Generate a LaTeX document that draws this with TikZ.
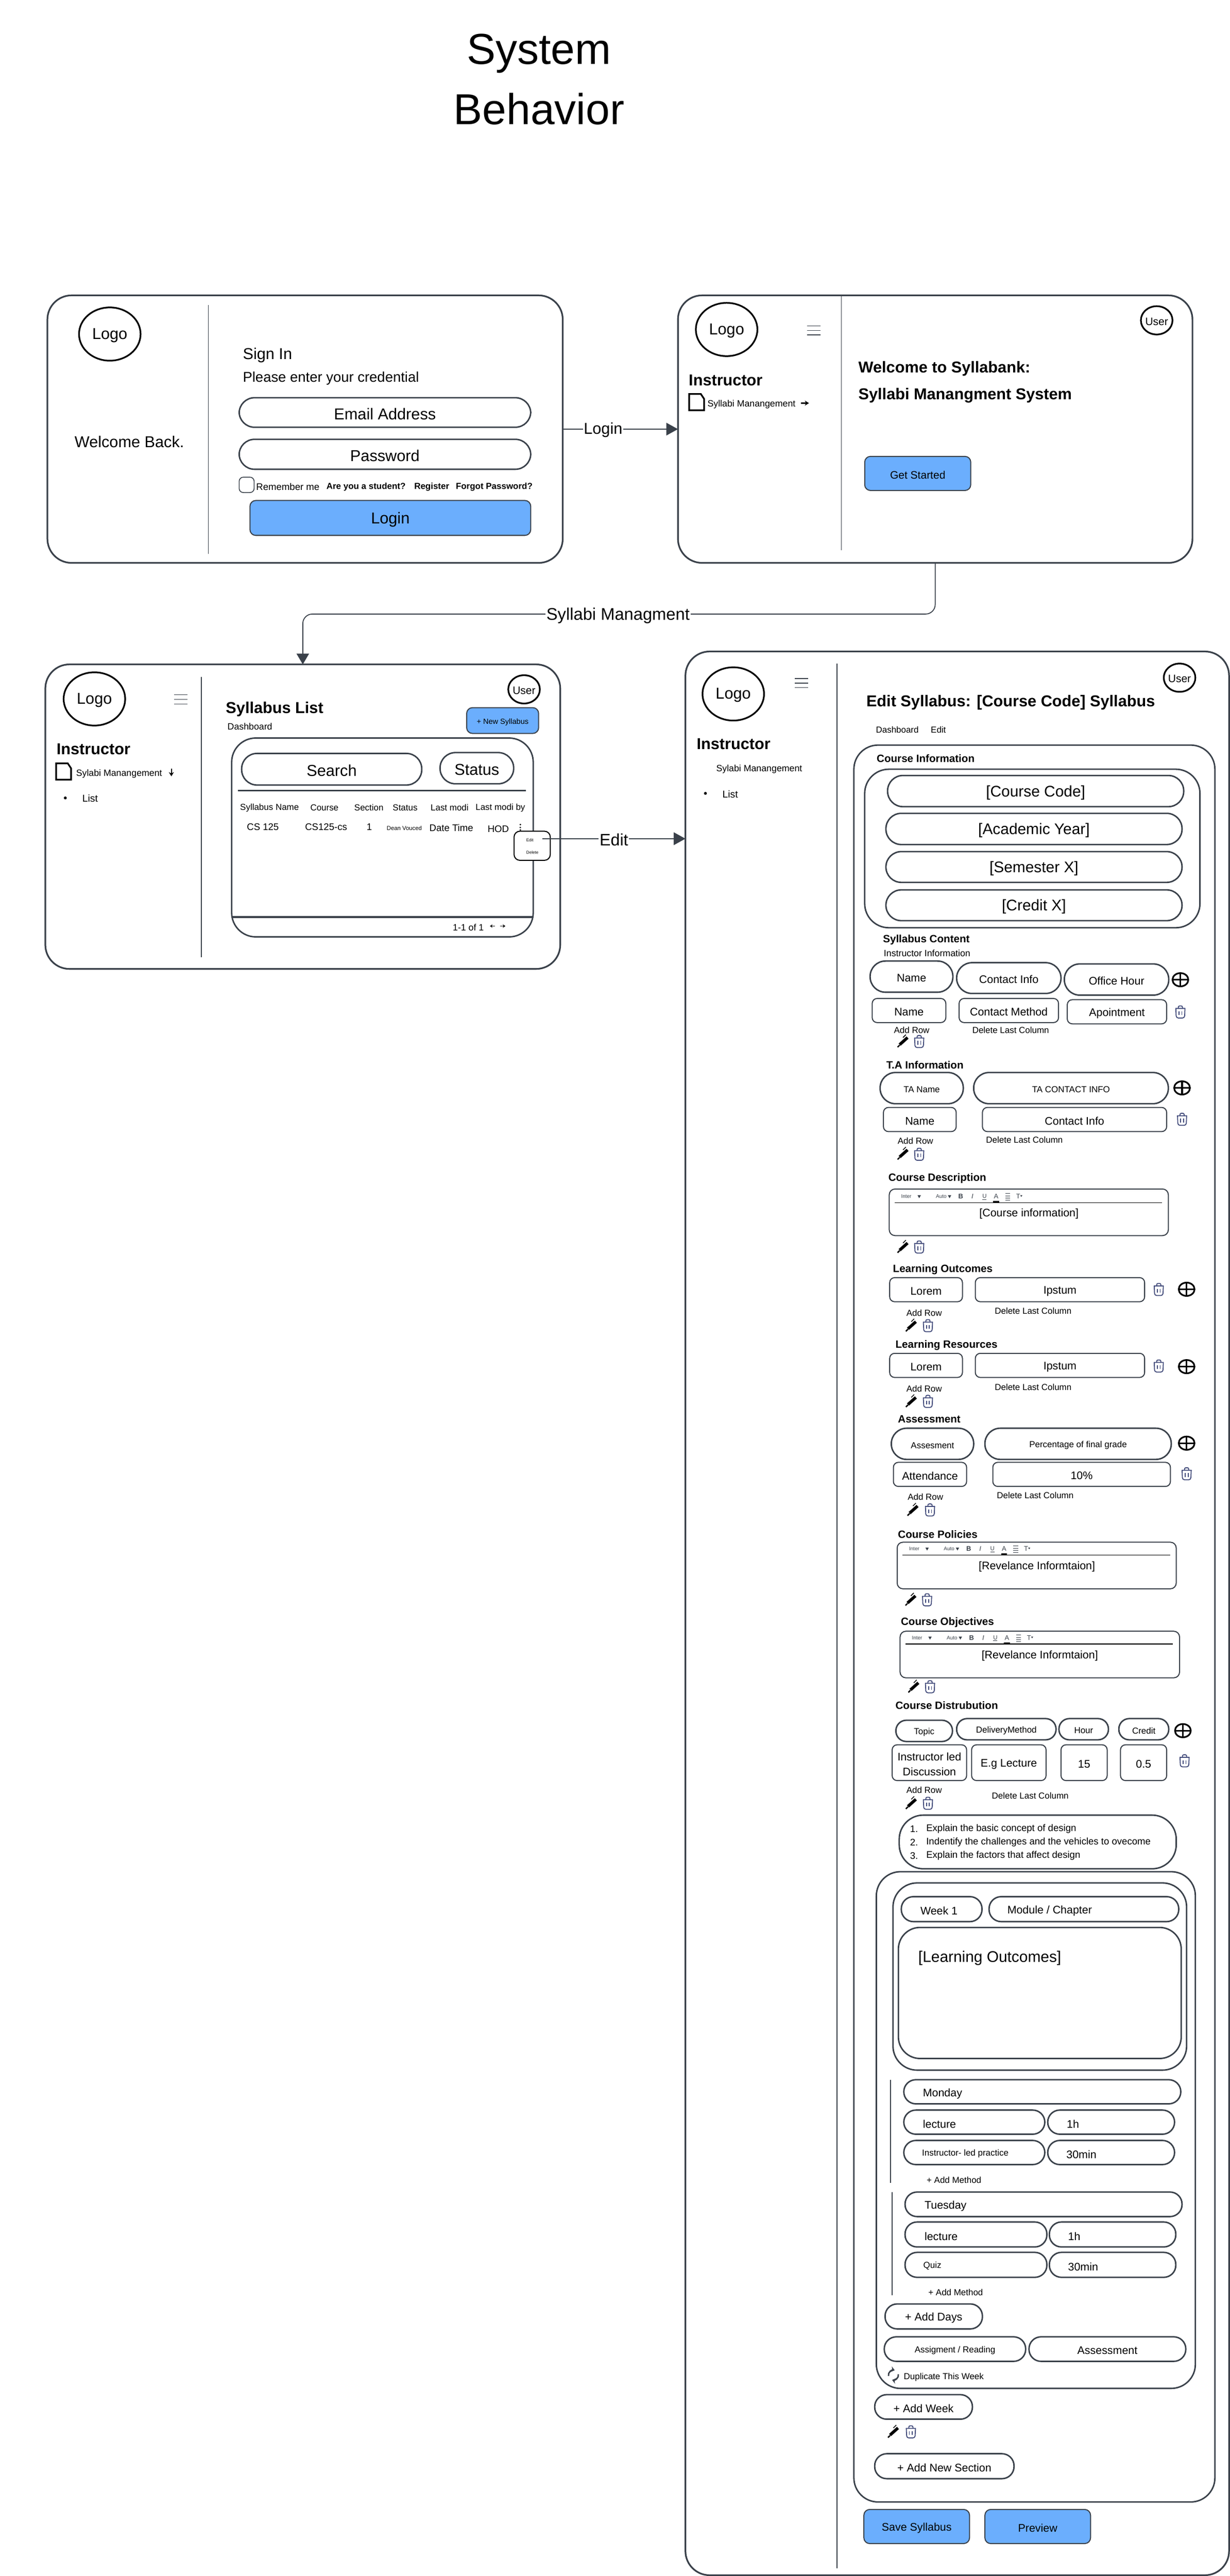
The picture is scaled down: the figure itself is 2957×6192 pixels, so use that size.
\documentclass[tikz,border=0pt]{standalone}
\usepackage{fontspec}
\setmainfont{Liberation Sans}
\usetikzlibrary{arrows.meta,shapes.geometric}
\definecolor{ln}{HTML}{3A414A}
\definecolor{btnblue}{HTML}{6BAEFD}
\definecolor{trashc}{HTML}{3F4878}
\newcounter{tn}
\tikzset{
  base/.style={inner sep=0pt,outer sep=0pt,align=center,text=black},
  frame/.style={base,draw=ln,line width=2pt,rounded corners=29pt},
  panel/.style={base,draw=ln,line width=1.75pt,rounded corners=29pt},
  pillL/.style={base,draw=ln,line width=1.75pt,rounded corners=18.5pt},
  pillM/.style={base,draw=ln,line width=1.75pt,rounded corners=14.5pt},
  pillS/.style={base,draw=ln,line width=1.75pt,rounded corners=12.5pt},
  thinbox/.style={base,draw=ln,line width=1.25pt,rounded corners=6pt},
  btn/.style={base,draw=ln,line width=1.25pt,rounded corners=7pt,fill=btnblue},
  popup/.style={base,draw=black,line width=1.25pt,rounded corners=7pt,fill=white},
  logo/.style={base,draw=black,line width=2pt,ellipse},
  divider/.style={draw=ln,line width=1.1pt},
  conn/.style={draw=ln,line width=1.6pt,-{Triangle[length=14pt,width=15pt,fill=ln]}},
  connthin/.style={draw=ln,line width=1.1pt,rounded corners=11.5pt,-{Triangle[length=13pt,width=15pt,fill=ln]}},
  edgelabel/.style={fill=white,inner xsep=1pt,inner ysep=1pt},
  small/.style={line width=1.4pt,-{Stealth[length=5pt,width=6pt]}},
  t100/.style={font=\fontsize{52pt}{71pt}\selectfont},
  t42/.style={font=\fontsize{20.25pt}{25pt}\selectfont},
  t38/.style={font=\fontsize{19pt}{23pt}\selectfont},
  t37/.style={font=\fontsize{18.5pt}{22pt}\selectfont},
  t34/.style={font=\fontsize{17pt}{20pt}\selectfont},
  t26/.style={font=\fontsize{13.25pt}{18pt}\selectfont},
  t24/.style={font=\fontsize{12pt}{15pt}\selectfont},
  t23/.style={font=\fontsize{11.5pt}{14pt}\selectfont},
  t22/.style={font=\fontsize{11pt}{14pt}\selectfont},
  t21/.style={font=\fontsize{10.5pt}{13pt}\selectfont},
  t18/.style={font=\fontsize{9pt}{11pt}\selectfont},
  t14/.style={font=\fontsize{7pt}{9pt}\selectfont},
  t10/.style={font=\fontsize{5pt}{6pt}\selectfont},
  b38/.style={font=\fontsize{19pt}{23pt}\selectfont\bfseries},
  b25/.style={font=\fontsize{12.75pt}{15pt}\selectfont\bfseries},
  b21/.style={font=\fontsize{10.5pt}{13pt}\selectfont\bfseries},
}
% style, name, x1, y1, x2, y2, text: frame node plus its text, set a little lower as in the reference
\newcommand{\mybox}[7]{%
  \pgfmathsetlengthmacro\bw{(#5-#3)*0.5pt}%
  \pgfmathsetlengthmacro\bh{(#6-#4)*0.5pt}%
  \node[#1,minimum width=\bw,minimum height=\bh] (#2) at ({(#3+#5)/2},{(#4+#6)/2}) {};
  \def\tmptxt{#7}\ifx\tmptxt\empty\else
  \node[base,#1,draw=none,fill=none,yshift=-1.75pt] (#2-text) at (#2) {#7};\fi}
% style, x, y, text
\newcommand{\mytext}[4]{\stepcounter{tn}\node[base,#1,yshift=-1.75pt] (t\arabic{tn}) at (#2,#3) {#4};}
\newcommand{\myL}[4]{\mytext{anchor=west,#1}{#2}{#3}{#4}}
\newcommand{\myellipse}[6]{%
  \pgfmathsetlengthmacro\bw{(#5)*1pt}%
  \pgfmathsetlengthmacro\bh{(#6)*1pt}%
  \node[logo,minimum width=\bw,minimum height=\bh] (#1) at (#3,#4) {};
  \node[base,yshift=-1.5pt] (#1-text) at (#1) {#2};}
\newcommand{\mylogo}[3]{\myellipse{#1}{\fontsize{19pt}{23pt}\selectfont Logo}{#2}{#3}{74}{64}}
\newcommand{\myuser}[3]{\myellipse{#1}{\fontsize{13pt}{16pt}\selectfont User}{#2}{#3}{38}{34}}
\newcommand{\myham}[3]{\draw[ln,line width=.8pt] (#1,#2) -- ++(32,0) (#1,{#2+11}) -- ++(32,0) (#1,{#2+22}) -- ++(32,0);}
\newcommand{\mydoc}[2]{\begin{scope}[shift={(#1,#2)}]\draw[black,line width=2pt,line join=miter] (0,0) -- (28,0) -- (36,12) -- (36,39) -- (0,39) -- cycle;\end{scope}}
\newcommand{\mytrash}[2]{\begin{scope}[shift={(#1,#2)}]
  \draw[trashc,line width=1.1pt,rounded corners=2.5pt] (-11,-8) -- (-10,15) -- (10,15) -- (11,-8);
  \draw[trashc,line width=1.1pt,rounded corners=1.5pt] (-12,-8) -- (12,-8) (-5,-8) -- (-5,-14) -- (5,-14) -- (5,-8);
  \draw[trashc,line width=1.1pt] (-3.5,-1) -- (-3.5,8) (3.5,-1) -- (3.5,8);
\end{scope}}
\newcommand{\mypen}[2]{\begin{scope}[shift={(#1,#2)}]
  \draw[black,line width=3.6pt] (-9,9) -- (10,-8);
  \draw[black,line width=1.6pt] (-14,15) -- (-9,10);
  \draw[black,line width=.9pt] (-1,-8) -- (6,-15);
\end{scope}}
\newcommand{\myplus}[2]{\begin{scope}[shift={(#1,#2)}]
  \draw[black,line width=2pt] (0,0) ellipse[x radius=19,y radius=16];
  \draw[black,line width=2pt] (-19,0) -- (19,0) (0,-16) -- (0,16);
\end{scope}}
% x of box left, y of box top, line y offset, right offset
\newcommand{\mytool}[4]{\begin{scope}[shift={(#1,#2)}]
  \node[base,text=ln,font=\fontsize{6.2pt}{8pt}\selectfont] at (41,#3-15) {Inter};
  \fill[ln] (68,#3-18) -- (76,#3-18) -- (72,#3-11) -- cycle;
  \node[base,text=ln,font=\fontsize{6.2pt}{8pt}\selectfont] at (125,#3-15) {Auto};
  \fill[ln] (141,#3-18) -- (149,#3-18) -- (145,#3-11) -- cycle;
  \node[base,text=ln,font=\fontsize{8pt}{10pt}\selectfont\bfseries] at (172,#3-15) {B};
  \node[base,text=ln,font=\fontsize{8pt}{10pt}\selectfont\itshape] at (200,#3-15) {I};
  \node[base,text=ln,font=\fontsize{7pt}{9pt}\selectfont] at (229,#3-16) {U};
  \draw[ln,line width=.5pt] (224,#3-8) -- (234,#3-8);
  \node[base,text=ln,font=\fontsize{8pt}{10pt}\selectfont] at (257,#3-15) {A};
  \fill[black] (250,#3-4) rectangle (264,#3-1);
  \draw[ln,line width=.6pt] (279,#3-22) -- (291,#3-22) (279,#3-16) -- (291,#3-16) (279,#3-11) -- (291,#3-11) (279,#3-6) -- (291,#3-6);
  \node[base,text=ln,font=\fontsize{8pt}{10pt}\selectfont] at (310,#3-15) {T};
  \fill[ln] (315,#3-18) -- (320,#3-18) -- (317.5,#3-14) -- cycle;
  \draw[black,line width=1pt] (13,#3) -- (#4,#3);
\end{scope}}
\begin{document}
\begin{tikzpicture}[x=0.5pt,y=-0.5pt]
\useasboundingbox (0,0) rectangle (2957,6192);
\fill[white] (0,0) rectangle (2957,6192);

% Title
\mytext{t100}{1296}{125}{System}
\mytext{t100}{1296}{258}{Behavior}

% ---- Screen 1
\mybox{frame}{s1}{114}{710}{1353}{1353}{}
\draw[divider] (501,733) -- (501,1331);
\mylogo{logoa}{264}{803}
\mytext{t38}{311}{1059}{Welcome Back.}
\myL{t38}{584}{851}{Sign In}
\myL{t34}{584}{906}{Please enter your credential}
\mybox{pillL,t38}{email}{575}{956}{1276}{1027}{Email Address}
\mybox{pillL,t38}{password}{575}{1056}{1276}{1128}{Password}
\mybox{thinbox,rounded corners=5pt,line width=1pt}{remember}{575}{1147}{611}{1184}{}
\myL{t23}{616}{1167}{Remember me}
\myL{b21}{785}{1167}{Are you a student?}
\myL{b21}{996}{1167}{Register}
\myL{b21}{1096}{1167}{Forgot Password?}
\mybox{btn,t38}{loginbtn}{601}{1203}{1276}{1287}{Login}

% ---- Screen 2
\mybox{frame}{s2}{1630}{710}{2867}{1353}{}
\draw[divider] (2023,710) -- (2023,1323);
\mylogo{logob}{1747}{792}
\myham{1941}{783}{}
\myL{b38}{1656}{910}{Instructor}
\mydoc{1657}{947}
\myL{t22}{1701}{969}{Syllabi Manangement}
\draw[small] (1926,969) -- (1945,969);
\myuser{userb}{2781}{770}
\myL{b38}{2064}{883}{Welcome to Syllabank:}
\myL{b38}{2064}{947}{Syllabi Manangment System}
\mybox{btn,font=\fontsize{13pt}{16pt}\selectfont}{getstarted}{2079}{1097}{2334}{1179}{Get Started}

% ---- Screen 3
\mybox{frame}{s3}{109}{1597}{1347}{2329}{}
\draw[divider] (484,1627) -- (484,2301);
\mylogo{logoc}{227}{1680}
\myham{419}{1670}{}
\myL{b38}{136}{1797}{Instructor}
\mydoc{135}{1835}
\myL{t22}{183}{1856}{Sylabi Manangement}
\draw[small] (412,1848) -- (412,1866);
\fill[black] (157,1918) circle[radius=3.5];
\myL{t24}{198}{1916}{List}
\myuser{userc}{1260}{1657}
\myL{b38}{543}{1701}{Syllabus List}
\myL{t22}{547}{1743}{Dashboard}
\mybox{btn,t18}{newsyl}{1122}{1701}{1295}{1763}{+ New Syllabus}
\mybox{panel}{tablep}{557}{1774}{1282}{2252}{}
\mybox{pillL,t38}{search}{581}{1811}{1014}{1887}{Search}
\mybox{pillL,t38}{statusb}{1058}{1809}{1235}{1884}{Status}
\draw[ln,line width=1.6pt] (572,1900) -- (1264,1900);
\mytext{t21}{648}{1938}{Syllabus Name}
\mytext{t21}{780}{1938}{Course}
\mytext{t21}{887}{1938}{Section}
\mytext{t21}{974}{1938}{Status}
\mytext{t21}{1081}{1938}{Last modi}
\mytext{t21}{1203}{1938}{Last modi by}
\mytext{t23}{632}{1984}{CS 125}
\mytext{t23}{784}{1984}{CS125-cs}
\mytext{t23}{888}{1984}{1}
\mytext{t14}{972}{1987}{Dean Vouced}
\mytext{t23}{1085}{1987}{Date Time}
\mytext{t23}{1198}{1989}{HOD}
\fill[black] (1251,1982) circle[radius=2] (1251,1989) circle[radius=2] (1251,1995) circle[radius=2];
\draw[ln,line width=2.2pt] (557,2204) -- (1282,2204);
\mytext{t22}{1126}{2226}{1-1 of 1}
\draw[small,line width=.9pt,-{Stealth[length=3pt,width=4pt]}] (1190,2226) -- (1178,2226);
\draw[small,line width=.9pt,-{Stealth[length=3pt,width=4pt]}] (1203,2226) -- (1215,2226);
\mybox{popup}{popupm}{1236}{1998}{1323}{2068}{}
\mytext{t10}{1274}{2016}{Edit}
\mytext{t10}{1280}{2045}{Delete}

% ---- Screen 4
\mybox{frame}{s4}{1648}{1566}{2955}{6190}{}
\draw[divider] (2012,1595) -- (2012,6173);
\mylogo{logod}{1763}{1668}
\myham{1911}{1631}{}
\myL{b38}{1675}{1785}{Instructor}
\myL{t22}{1722}{1845}{Sylabi Manangement}
\fill[black] (1696,1907) circle[radius=3.5];
\myL{t24}{1737}{1905}{List}
\myuser{userd}{2836}{1629}
\myL{b38}{2083}{1685}{Edit Syllabus: [Course Code] Syllabus}
\myL{t21}{2106}{1751}{Dashboard}
\myL{t21}{2238}{1751}{Edit}
\mybox{panel}{content}{2053}{1791}{2921}{6014}{}
\myL{b25}{2108}{1820}{Course Information}
\mybox{panel}{courseinfo}{2079}{1849}{2885}{2230}{}
\mybox{pillL,t37}{ccode}{2134}{1864}{2846}{1939}{[Course Code]}
\mybox{pillL,t37}{ayear}{2130}{1955}{2842}{2030}{[Academic Year]}
\mybox{pillL,t37}{semester}{2130}{2047}{2842}{2121}{[Semester X]}
\mybox{pillL,t37}{credit}{2130}{2139}{2842}{2213}{[Credit X]}

% Syllabus content
\myL{b25}{2123}{2256}{Syllabus Content}
\myL{t22}{2125}{2288}{Instructor Information}
\mybox{pillL,t26}{h1}{2092}{2310}{2291}{2385}{Name}
\mybox{pillL,t26}{h2}{2300}{2314}{2551}{2388}{Contact Info}
\mybox{pillL,t26}{h3}{2559}{2317}{2810}{2392}{Office Hour}
\myplus{2838}{2355}
\mybox{thinbox,t26}{r1}{2097}{2400}{2274}{2458}{Name}
\mybox{thinbox,t26}{r2}{2306}{2400}{2545}{2458}{Contact Method}
\mybox{thinbox,t26}{r3}{2566}{2403}{2805}{2461}{Apointment}
\mytrash{2838}{2432}
\mytext{t21}{2192}{2472}{Add Row}
\mytext{t21}{2430}{2472}{Delete Last Column}
\mypen{2172}{2502}\mytrash{2210}{2503}

% TA
\myL{b25}{2131}{2557}{T.A Information}
\mybox{pillL,t21}{ta1}{2116}{2578}{2316}{2653}{TA Name}
\mybox{pillL,t21}{ta2}{2341}{2578}{2809}{2653}{TA CONTACT INFO}
\myplus{2842}{2615}
\mybox{thinbox,t26}{tb1}{2124}{2662}{2299}{2720}{Name}
\mybox{thinbox,t26}{tb2}{2362}{2662}{2805}{2720}{Contact Info}
\mytrash{2842}{2690}
\mytext{t21}{2201}{2739}{Add Row}
\mytext{t21}{2463}{2736}{Delete Last Column}
\mypen{2172}{2772}\mytrash{2210}{2774}

% Course description
\myL{b25}{2136}{2829}{Course Description}
\mybox{thinbox,rounded corners=7pt}{ed1}{2138}{2858}{2809}{2970}{}
\mytool{2138}{2858}{33}{656}
\mytext{t26}{2474}{2914}{[Course information]}
\mypen{2172}{2996}\mytrash{2210}{2997}

% Learning outcomes
\myL{b25}{2147}{3048}{Learning Outcomes}
\mybox{thinbox,t26}{lo1}{2139}{3071}{2314}{3129}{Lorem}
\mybox{thinbox,t26}{lo2}{2345}{3071}{2752}{3129}{Ipstum}
\mytrash{2786}{3099}\myplus{2853}{3099}
\mytext{t21}{2222}{3152}{Add Row}
\mytext{t21}{2484}{3148}{Delete Last Column}
\mypen{2192}{3185}\mytrash{2231}{3186}

% Learning resources
\myL{b25}{2153}{3230}{Learning Resources}
\mybox{thinbox,t26}{lr1}{2139}{3253}{2314}{3311}{Lorem}
\mybox{thinbox,t26}{lr2}{2345}{3253}{2752}{3311}{Ipstum}
\mytrash{2786}{3283}\myplus{2853}{3285}
\mytext{t21}{2222}{3334}{Add Row}
\mytext{t21}{2484}{3331}{Delete Last Column}
\mypen{2192}{3367}\mytrash{2231}{3368}

% Assessment
\myL{b25}{2159}{3408}{Assessment}
\mybox{pillL,t21}{as1}{2143}{3433}{2341}{3508}{Assesment}
\mybox{pillL,t21}{as2}{2368}{3433}{2816}{3508}{Percentage of final grade}
\myplus{2853}{3469}
\mybox{thinbox,t26}{ab1}{2148}{3515}{2324}{3573}{Attendance}
\mybox{thinbox,t26}{ab2}{2387}{3515}{2814}{3573}{10\%}
\mytrash{2853}{3542}
\mytext{t21}{2225}{3594}{Add Row}
\mytext{t21}{2489}{3591}{Delete Last Column}
\mypen{2196}{3628}\mytrash{2236}{3629}

% Course policies
\myL{b25}{2159}{3684}{Course Policies}
\mybox{thinbox,rounded corners=7pt}{ed2}{2157}{3707}{2828}{3819}{}
\mytool{2157}{3707}{31}{656}
\mytext{t26}{2493}{3763}{[Revelance Informtaion]}
\mypen{2191}{3844}\mytrash{2229}{3845}

% Course objectives
\myL{b25}{2166}{3897}{Course Objectives}
\mybox{thinbox,rounded corners=7pt}{ed3}{2164}{3921}{2836}{4033}{}
\mytool{2164}{3921}{31}{656}
\mytext{t26}{2500}{3977}{[Revelance Informtaion]}
\mypen{2198}{4053}\mytrash{2236}{4054}

% Course distribution
\myL{b25}{2153}{4096}{Course Distrubution}
\mybox{pillS,t21}{cd1}{2154}{4135}{2290}{4186}{Topic}
\mybox{pillS,t21}{cd2}{2300}{4131}{2539}{4182}{DeliveryMethod}
\mybox{pillS,t21}{cd3}{2546}{4131}{2665}{4182}{Hour}
\mybox{pillS,t21}{cd4}{2690}{4131}{2810}{4182}{Credit}
\myplus{2844}{4160}
\mybox{thinbox,t26}{cr1}{2145}{4194}{2324}{4280}{Instructor led\\Discussion}
\mybox{thinbox,t26}{cr2}{2336}{4194}{2515}{4280}{E.g Lecture}
\mybox{thinbox,t26}{cr3}{2551}{4194}{2662}{4280}{15}
\mybox{thinbox,t26}{cr4}{2694}{4194}{2805}{4280}{0.5}
\mytrash{2848}{4232}
\mytext{t21}{2222}{4299}{Add Row}
\mytext{t21}{2477}{4313}{Delete Last Column}
\mypen{2192}{4333}\mytrash{2231}{4334}
\mybox{panel}{objlist}{2162}{4363}{2828}{4492}{}
\myL{t23}{2188}{4393}{1.}\myL{t23}{2227}{4393}{Explain the basic concept of design}
\myL{t23}{2188}{4425}{2.}\myL{t23}{2227}{4425}{Indentify the challenges and the vehicles to ovecome}
\myL{t23}{2188}{4457}{3.}\myL{t23}{2227}{4457}{Explain the factors that affect design}

% Week
\mybox{panel}{weekouter}{2107}{4499}{2874}{5741}{}
\mybox{panel}{weekinner}{2147}{4526}{2853}{4976}{}
\mybox{pillM}{week1}{2167}{4559}{2361}{4619}{}
\myL{t26}{2213}{4590}{Week 1}
\mybox{pillM}{module}{2378}{4559}{2834}{4619}{}
\myL{t26}{2422}{4590}{Module / Chapter}
\mybox{panel,rounded corners=26pt}{lobox}{2160}{4633}{2840}{4948}{}
\myL{t37}{2208}{4703}{[Learning Outcomes]}
\draw[divider] (2141,4999) -- (2141,5247);
\mybox{pillM}{mon}{2173}{4999}{2839}{5057}{}
\myL{t26}{2219}{5029}{Monday}
\mybox{pillM}{m1}{2173}{5072}{2512}{5130}{}
\myL{t26}{2219}{5102}{lecture}
\mybox{pillM}{m2}{2519}{5072}{2824}{5130}{}
\myL{t26}{2565}{5102}{1h}
\mybox{pillM}{m3}{2173}{5145}{2512}{5203}{}
\myL{t21}{2217}{5173}{Instructor- led practice}
\mybox{pillM}{m4}{2519}{5145}{2824}{5203}{}
\myL{t26}{2564}{5175}{30min}
\myL{t21}{2228}{5237}{+ Add Method}
\draw[divider] (2145,5269) -- (2145,5517);
\mybox{pillM}{tue}{2176}{5269}{2842}{5328}{}
\myL{t26}{2223}{5299}{Tuesday}
\mybox{pillM}{t1}{2176}{5341}{2517}{5401}{}
\myL{t26}{2223}{5372}{lecture}
\mybox{pillM}{t2}{2523}{5341}{2827}{5401}{}
\myL{t26}{2568}{5372}{1h}
\mybox{pillM}{t3}{2176}{5414}{2517}{5474}{}
\myL{t21}{2220}{5443}{Quiz}
\mybox{pillM}{t4}{2523}{5414}{2827}{5474}{}
\myL{t26}{2568}{5445}{30min}
\myL{t21}{2232}{5507}{+ Add Method}
\mybox{pillM,t26}{adddays}{2128}{5538}{2362}{5598}{+ Add Days}
\mybox{pillM,t21}{assign}{2126}{5617}{2466}{5676}{Assigment / Reading}
\mybox{pillM,t26}{assess}{2474}{5617}{2851}{5676}{Assessment}
\begin{scope}[shift={(2148,5709)}]
  \draw[ln,line width=1.7pt,-{Stealth[length=4.5pt,width=7pt]}] (0,0) ++(-190:12) arc[start angle=-190,end angle=-75,radius=12];
  \draw[ln,line width=1.7pt,-{Stealth[length=4.5pt,width=7pt]}] (0,0) ++(-10:12) arc[start angle=-10,end angle=105,radius=12];
\end{scope}
\myL{t21}{2173}{5710}{Duplicate This Week}
\mybox{pillM,t26}{addweek}{2103}{5756}{2338}{5815}{+ Add Week}
\mypen{2149}{5844}\mytrash{2190}{5845}
\mybox{pillM,t26}{addsec}{2103}{5898}{2438}{5958}{+ Add New Section}
\mybox{btn,t26}{save}{2077}{6032}{2331}{6114}{Save Syllabus}
\mybox{btn,t26}{preview}{2368}{6032}{2622}{6114}{Preview}

% ---- Connectors
\draw[conn] (s1) -- (s2);
\mytext{edgelabel,t38}{1450}{1030}{Login}
\coordinate (elb) at (1500,1476);
\draw[connthin] (s2.south) -- (s2.south |- elb) -- (s3.north |- elb) -- (s3.north);
\mytext{edgelabel,t42}{1486}{1476}{Syllabi Managment}
\coordinate (editc) at (1304,2016);
\draw[conn] (editc) -- (editc -| s4.west);
\mytext{edgelabel,font=\fontsize{20pt}{24pt}\selectfont}{1476}{2015}{Edit}
\end{tikzpicture}
\end{document}
